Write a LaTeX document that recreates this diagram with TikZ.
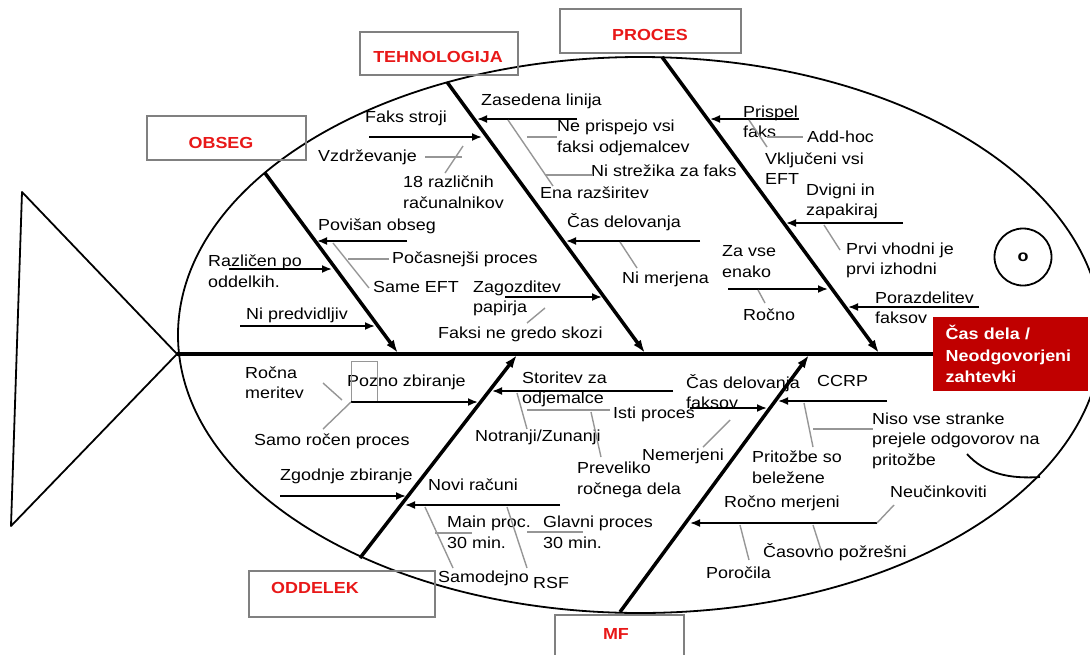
\documentclass[tikz,border=0pt]{standalone}
\usepackage{fontspec}
\setmainfont{Liberation Sans}[FakeStretch=1.12]
\usetikzlibrary{arrows.meta}
\definecolor{catred}{RGB}{232,24,24}
\definecolor{goalred}{RGB}{192,0,0}
\definecolor{boxgray}{RGB}{128,128,128}
\definecolor{linkgray}{RGB}{150,150,150}

\tikzset{
  bone/.style={line width=3.5pt, -{Latex[length=13pt,width=9pt]}},
  cause/.style={line width=1.8pt, -{Latex[length=10pt,width=8pt]}},
  link/.style={line width=1.4pt, draw=linkgray},
  lbl/.style={inner sep=0pt, anchor=west, align=left},
  catbox/.style={draw=boxgray, line width=2pt},
  cat/.style={inner sep=0pt, text=catred, font=\fontsize{16}{19}\selectfont\bfseries},
}

\begin{document}
\begin{tikzpicture}[x=1pt, y=-1pt, font=\fontsize{16}{20.5}\selectfont]
  \useasboundingbox (0,0) rectangle (1090,654);

  % body, tail, eye
  \draw[line width=1.8pt] (640,335) ellipse (462 and 278);
  \coordinate (tailtop) at (22,192);
  \coordinate (tailbot) at (11,526);
  \coordinate (tip)     at (177,354);
  \draw[line width=1.8pt, line join=round] (tailtop) -- (tip) -- (tailbot) -- cycle;
  \node[draw, circle, line width=1.8pt, minimum size=57pt, inner sep=0pt,
        font=\fontsize{16}{19}\selectfont\bfseries] (eye) at (1023,257) {o};
  \draw[line width=1.8pt] (967,454) .. controls (985,474) and (1010,479) .. (1040,477);

  % head
  \node[fill=goalred, text=white, font=\fontsize{16}{21.5}\selectfont\bfseries,
        anchor=west, minimum width=155pt, minimum height=74pt, text width=130pt,
        inner xsep=12.5pt, align=left] (goal) at (933,354) {Čas dela /\\Neodgovorjeni\\zahtevki};
  \draw[line width=3.5pt] (tip) -- (goal.west);

  % categories
  \draw[catbox] (147,116) rectangle (306,160);
  \node[cat] (obseg) at (221,143) {OBSEG};
  \draw[catbox] (360,32) rectangle (518,75);
  \node[cat] (tehnologija) at (438,57) {TEHNOLOGIJA};
  \draw[catbox] (560,9) rectangle (741,53);
  \node[cat] (proces) at (650,35) {PROCES};
  \draw[catbox] (249,571) rectangle (435,617);
  \node[cat] (oddelek) at (315,588) {ODDELEK};
  \draw[catbox] (555,615) rectangle (684,664);
  \node[cat] (mf) at (616,634) {MF};

  % bones
  \coordinate (obA) at (265,173); \coordinate (obB) at (398,353);
  \coordinate (teA) at (447,82);  \coordinate (teB) at (645,353);
  \coordinate (prA) at (662,57);  \coordinate (prB) at (879,353);
  \coordinate (odA) at (360,558); \coordinate (odB) at (517,355);
  \coordinate (mfA) at (620,612); \coordinate (mfB) at (809,355);
  \foreach \b in {ob,te,pr,od,mf}
    \draw[bone] (\b A) -- (\b B);

  % causes: obseg
  \node[lbl] (povisan)  at (318,226) {Povišan obseg};
  \node[lbl] (pocasn)   at (392,259) {Počasnejši proces};
  \node[lbl] (sameeft)  at (373,287) {Same EFT};
  \node[lbl] (razlicen) at (208,271) {Različen po\\oddelkih.};
  \node[lbl] (nipred)   at (246,315) {Ni predvidljiv};
  \coordinate (povS) at (407,241); \coordinate (povE) at (317,241);
  \coordinate (razS) at (229,269); \coordinate (razE) at (332,269);
  \coordinate (nipS) at (240,326); \coordinate (nipE) at (375,326);

  % causes: tehnologija
  \node[lbl] (faks)     at (365,118) {Faks stroji};
  \node[lbl] (vzdrz)    at (318,157) {Vzdrževanje};
  \node[lbl] (racun)    at (403,192) {18 različnih\\računalnikov};
  \node[lbl] (zagoz)    at (473,298.5) {Zagozditev\\papirja};
  \node[lbl] (faksine)  at (438,334) {Faksi ne gredo skozi};
  \node[lbl] (zased)    at (481,101) {Zasedena linija};
  \node[lbl] (neprisp)  at (557,138) {Ne prispejo vsi\\faksi odjemalcev};
  \node[lbl] (nistrez)  at (591,171) {Ni strežika za faks};
  \node[lbl] (enaraz)   at (540,193) {Ena razširitev};
  \node[lbl] (casdel)   at (567,222) {Čas delovanja};
  \node[lbl] (nimerj)   at (622,279) {Ni merjena};
  \coordinate (fakS) at (369,137); \coordinate (fakE) at (482,137);
  \coordinate (zasS) at (577,119); \coordinate (zasE) at (477,119);
  \coordinate (casS) at (700,241); \coordinate (casE) at (566,241);
  \coordinate (zagS) at (505,297); \coordinate (zagE) at (602,297);

  % causes: proces
  \node[lbl] (zavse)    at (722,261.5) {Za vse\\enako};
  \node[lbl] (rocno)    at (743,315) {Ročno};
  \node[lbl] (prispel)  at (743,122) {Prispel\\faks};
  \node[lbl] (addhoc)   at (807,137) {Add-hoc};
  \node[lbl] (vkljuc)   at (765,168.5) {Vključeni vsi\\EFT};
  \node[lbl] (dvigni)   at (806,201.5) {Dvigni in\\zapakiraj};
  \node[lbl] (prvi)     at (846,260.5) {Prvi vhodni je\\prvi izhodni};
  \node[lbl] (porazd)   at (875,308) {Porazdelitev\\faksov};
  \coordinate (prsS) at (799,119); \coordinate (prsE) at (710,119);
  \coordinate (dviS) at (903,223); \coordinate (dviE) at (786,223);
  \coordinate (zavS) at (728,289); \coordinate (zavE) at (828,289);
  \coordinate (porS) at (979,307); \coordinate (porE) at (848,307);

  % causes: oddelek
  \node[lbl] (rocmer)   at (245,382.5) {Ročna\\meritev};
  \node[lbl] (pozno)    at (347,382) {Pozno zbiranje};
  \node[lbl] (samoroc)  at (254,441) {Samo ročen proces};
  \node[lbl] (zgodnje)  at (280,476) {Zgodnje zbiranje};
  \node[lbl] (storitev) at (522,389.5) {Storitev za\\odjemalce};
  \node[lbl] (isti)     at (613,414) {Isti proces};
  \node[lbl] (notranji) at (475,437) {Notranji/Zunanji};
  \node[lbl] (prevel)   at (577,480) {Preveliko\\ročnega dela};
  \node[lbl] (novi)     at (428,485) {Novi računi};
  \node[lbl] (mainpr)   at (447,532.5) {Main proc.\\30 min.};
  \node[lbl] (glavni)   at (543,532.5) {Glavni proces\\30 min.};
  \node[lbl] (samodej)  at (438,578) {Samodejno};
  \node[lbl] (rsf)      at (533,583) {RSF};
  \coordinate (pozS) at (351,402); \coordinate (pozE) at (478,402);
  \coordinate (zgoS) at (280,496); \coordinate (zgoE) at (406,496);
  \coordinate (stoS) at (673,391); \coordinate (stoE) at (492,391);
  \coordinate (novS) at (560,505); \coordinate (novE) at (405,505);
  \draw[link, line width=0.8pt] (351,361) rectangle (377,402);

  % causes: mf
  \node[lbl] (casfaks)  at (686,391.5) {Čas delovanja\\faksov};
  \node[lbl] (nemerj)   at (642,456) {Nemerjeni};
  \node[lbl] (ccrp)     at (817,381) {CCRP};
  \node[lbl] (pritoz)   at (752,467) {Pritožbe so\\beležene};
  \node[lbl] (nisovse)  at (872,440.5) {Niso vse stranke\\prejele odgovorov na\\pritožbe};
  \node[lbl] (neucin)   at (890,492) {Neučinkoviti};
  \node[lbl] (rocmerj)  at (724,503) {Ročno merjeni};
  \node[lbl] (porocila) at (706,573) {Poročila};
  \node[lbl] (casovno)  at (763,552) {Časovno požrešni};
  \coordinate (cdfS) at (690,408); \coordinate (cdfE) at (767,408);
  \coordinate (ccrS) at (887,401); \coordinate (ccrE) at (778,401);
  \coordinate (rmeS) at (877,523); \coordinate (rmeE) at (690,523);

  \foreach \c in {pov,raz,nip,fak,zas,cas,zag,prs,dvi,zav,por,poz,zgo,sto,nov,cdf,ccr,rme}
    \draw[cause] (\c S) -- (\c E);

  % sub-causes
  \coordinate (sefA) at (333,243); \coordinate (sefB) at (369,288);
  \coordinate (pocA) at (348,259); \coordinate (pocB) at (389,259);
  \coordinate (vzdA) at (425,157); \coordinate (vzdB) at (462,157);
  \coordinate (racA) at (463,146); \coordinate (racB) at (445,173);
  \coordinate (fngA) at (545,308); \coordinate (fngB) at (527,323);
  \coordinate (enaA) at (508,120); \coordinate (enaB) at (553,186);
  \coordinate (nepA) at (527,137); \coordinate (nepB) at (557,137);
  \coordinate (nisA) at (546,175); \coordinate (nisB) at (593,175);
  \coordinate (nmjA) at (620,242); \coordinate (nmjB) at (637,268);
  \coordinate (vkjA) at (749,120); \coordinate (vkjB) at (767,147);
  \coordinate (addA) at (767,137); \coordinate (addB) at (803,137);
  \coordinate (prvA) at (824,225); \coordinate (prvB) at (840,250);
  \coordinate (rocA) at (758,290); \coordinate (rocB) at (765,303);
  \coordinate (rmtA) at (323,383); \coordinate (rmtB) at (342,400);
  \coordinate (sroA) at (351,402); \coordinate (sroB) at (323,429);
  \coordinate (notA) at (517,393); \coordinate (notB) at (527,429);
  \coordinate (istA) at (527,410); \coordinate (istB) at (610,410);
  \coordinate (preA) at (591,412); \coordinate (preB) at (601,457);
  \coordinate (mpcA) at (435,533); \coordinate (mpcB) at (472,533);
  \coordinate (samA) at (425,507); \coordinate (samB) at (453,568);
  \coordinate (rsfA) at (507,507); \coordinate (rsfB) at (527,568);
  \coordinate (glvA) at (527,532); \coordinate (glvB) at (583,532);
  \coordinate (nemA) at (730,420); \coordinate (nemB) at (703,447);
  \coordinate (ptzA) at (804,403); \coordinate (ptzB) at (813,447);
  \coordinate (nsvA) at (813,429); \coordinate (nsvB) at (873,429);
  \coordinate (neuA) at (877,523); \coordinate (neuB) at (894,505);
  \coordinate (pcaA) at (740,525); \coordinate (pcaB) at (749,560);
  \coordinate (cpzA) at (813,525); \coordinate (cpzB) at (821,550);
  \foreach \l in {sef,poc,vzd,rac,fng,ena,nep,nis,nmj,vkj,add,prv,roc,rmt,sro,
                  not,ist,pre,mpc,sam,rsf,glv,nem,ptz,nsv,neu,pca,cpz}
    \draw[link] (\l A) -- (\l B);
\end{tikzpicture}
\end{document}
